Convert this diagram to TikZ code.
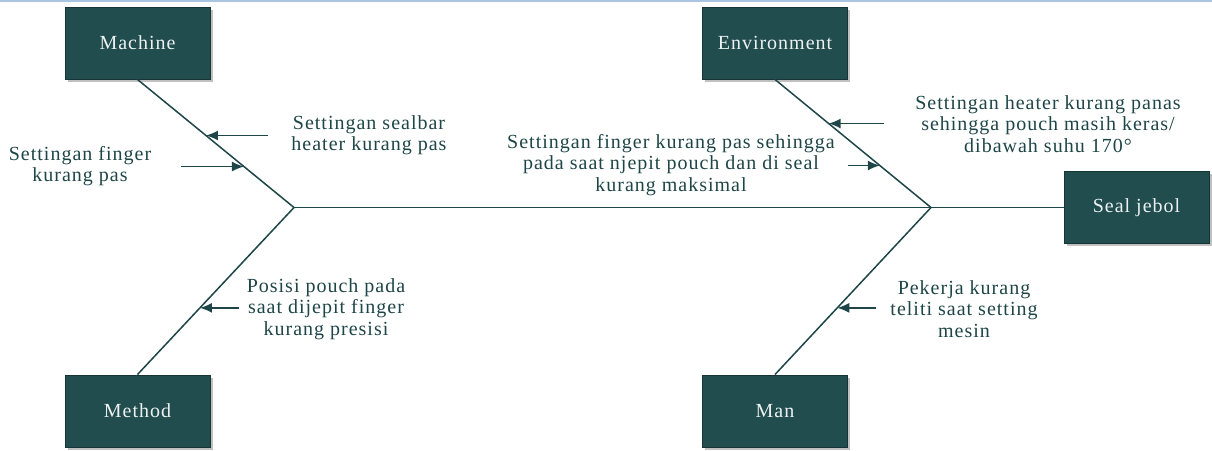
\documentclass[tikz,border=0pt]{standalone}
\usepackage{fontspec}
\setmainfont{Liberation Serif}[LetterSpace=5]
\usetikzlibrary{arrows.meta,calc,shadows}
\definecolor{FishTeal}{HTML}{214D4F}
\definecolor{FishInk}{HTML}{1E4547}
\definecolor{FishEdge}{HTML}{173436}
\definecolor{FishTop}{HTML}{A9C5E2}

\begin{document}
\begin{tikzpicture}[x=1pt,y=-1pt,
    catbox/.style={draw=FishEdge,line width=1pt,fill=FishTeal,text=white!92!FishTeal,
      minimum width=145pt,minimum height=72pt,inner sep=0pt,font=\fontsize{20}{21.5}\selectfont,
      drop shadow={shadow xshift=2.5pt,shadow yshift=-2.5pt,opacity=.45,fill=black!55}},
    bone/.style={draw=FishInk,line width=1.5pt},
    cause/.style={draw=FishInk,line width=1.5pt,-{Latex[length=12pt,width=10pt]}},
    note/.style={text=FishInk,align=center,inner sep=0pt,font=\fontsize{20}{21.5}\selectfont}]
  \useasboundingbox (0,0) rectangle (1212,450);
  \draw[FishTop,line width=1.5pt] (0,1)--(1212,1);

  \node[catbox] (machine) at (137.5,43) {Machine};
  \node[catbox] (environment) at (775,43) {Environment};
  \node[catbox] (method) at (137.5,411) {Method};
  \node[catbox] (man) at (775,411) {Man};
  \node[catbox] (seal) at (1136.5,207.5) {Seal jebol};

  \coordinate (jl) at (294,207.5);
  \coordinate (jr) at (931,207.5);
  \draw[bone] (jl)--(seal.west);
  \draw[bone] (machine.south)--(jl)--(method.north);
  \draw[bone] (environment.south)--(jr)--(man.north);

  \coordinate (t1) at ($(machine.south)!.4375!(jl)$);
  \coordinate (t2) at ($(machine.south)!.68!(jl)$);
  \coordinate (t3) at ($(environment.south)!.344!(jr)$);
  \coordinate (t4) at ($(environment.south)!.672!(jr)$);
  \coordinate (t5) at ($(method.north)!.399!(jl)$);
  \coordinate (t6) at ($(man.north)!.399!(jr)$);
  \coordinate (s1) at (268,0 |- t1);
  \coordinate (s2) at (181,0 |- t2);
  \coordinate (s3) at (884,0 |- t3);
  \coordinate (s4) at (848,0 |- t4);
  \coordinate (s5) at (239,0 |- t5);
  \coordinate (s6) at (876,0 |- t6);
  \foreach \i in {1,...,6} \draw[cause] (s\i)--(t\i);

  \node[note] (sealbar) at (369,135) {Settingan sealbar\\heater kurang pas};
  \node[note] (finger) at (80,166) {Settingan finger\\kurang pas};
  \node[note] (njepit) at (671,165) {Settingan finger kurang pas sehingga\\pada saat njepit pouch dan di seal\\kurang maksimal};
  \node[note] (heater) at (1048,124) {Settingan heater kurang panas\\sehingga pouch masih keras/\\dibawah suhu 170°};
  \node[note] (posisi) at (326,309) {Posisi pouch pada\\saat dijepit finger\\kurang presisi};
  \node[note] (pekerja) at (964,309) {Pekerja kurang\\teliti saat setting\\mesin};
\end{tikzpicture}
\end{document}
